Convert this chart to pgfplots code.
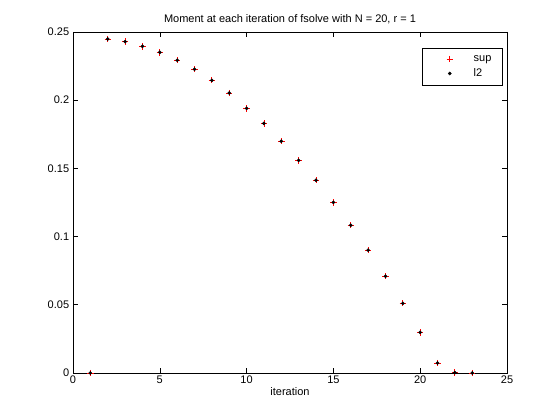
\documentclass[border=0pt]{standalone}
\usepackage{fontspec}
\setmainfont{Liberation Sans}
\usepackage{pgfplots}
\pgfplotsset{compat=1.18}

% moment at each fsolve iteration
\pgfplotstableread{
it   val
1    0.0000
2    0.2449
3    0.2429
4    0.2395
5    0.2351
6    0.2293
7    0.2227
8    0.2146
9    0.2053
10   0.1940
11   0.1830
12   0.1699
13   0.1559
14   0.1413
15   0.1251
16   0.1083
17   0.0900
18   0.0709
19   0.0511
20   0.0298
21   0.0073
22   0.0003
23   0.0000
}\moments

\begin{document}
\fontsize{11bp}{13bp}\selectfont
\begin{tikzpicture}
\begin{axis}[
  at={(0,0)}, anchor=south west,
  scale only axis,
  width=434bp, height=341bp,
  xmin=0, xmax=25, ymin=0, ymax=0.25,
  xtick={0,5,10,15,20,25},
  ytick={0,0.05,0.1,0.15,0.2,0.25},
  yticklabels={0,0.05,0.1,0.15,0.2,0.25},
  xticklabels={0,5,10,15,20,25},
  tick align=inside,
  major tick length=5bp,
  every tick/.style={black, line width=0.6bp},
  axis line style={line width=0.6bp},
  tick label style={font=\fontsize{11bp}{13bp}\selectfont},
  label style={font=\fontsize{11bp}{13bp}\selectfont},
  xticklabel style={yshift=1bp},
  xlabel={iteration},
  xlabel style={yshift=4bp},
  title={Moment at each iteration of fsolve with N = 20, r = 1},
  title style={font=\fontsize{11bp}{13bp}\selectfont, yshift=-2bp},
  legend style={at={(0.99,0.953)}, anchor=north east,
    font=\fontsize{11bp}{13bp}\selectfont,
    row sep=2bp, inner xsep=9bp, inner ysep=5bp},
  legend cell align=left,
  legend image code/.code={
    \path[draw=none] (-19bp,0bp) -- (12bp,0bp);
    \draw[#1, only marks] plot coordinates {(0bp,0bp)};
  },
]
\addplot[only marks, mark=+, mark size=3.2bp, color=red,
  mark options={line width=0.9bp, draw=red}] table[x=it, y=val] {\moments};
\addlegendentry{\hspace{10bp}sup}
\addplot[only marks, mark=*, mark size=1.6bp, color=black] table[x=it, y=val] {\moments};
\addlegendentry{\hspace{10bp}l2}
\end{axis}
\path[use as bounding box] (-73bp,-47bp) rectangle (487bp,373bp);
\end{tikzpicture}
\end{document}
